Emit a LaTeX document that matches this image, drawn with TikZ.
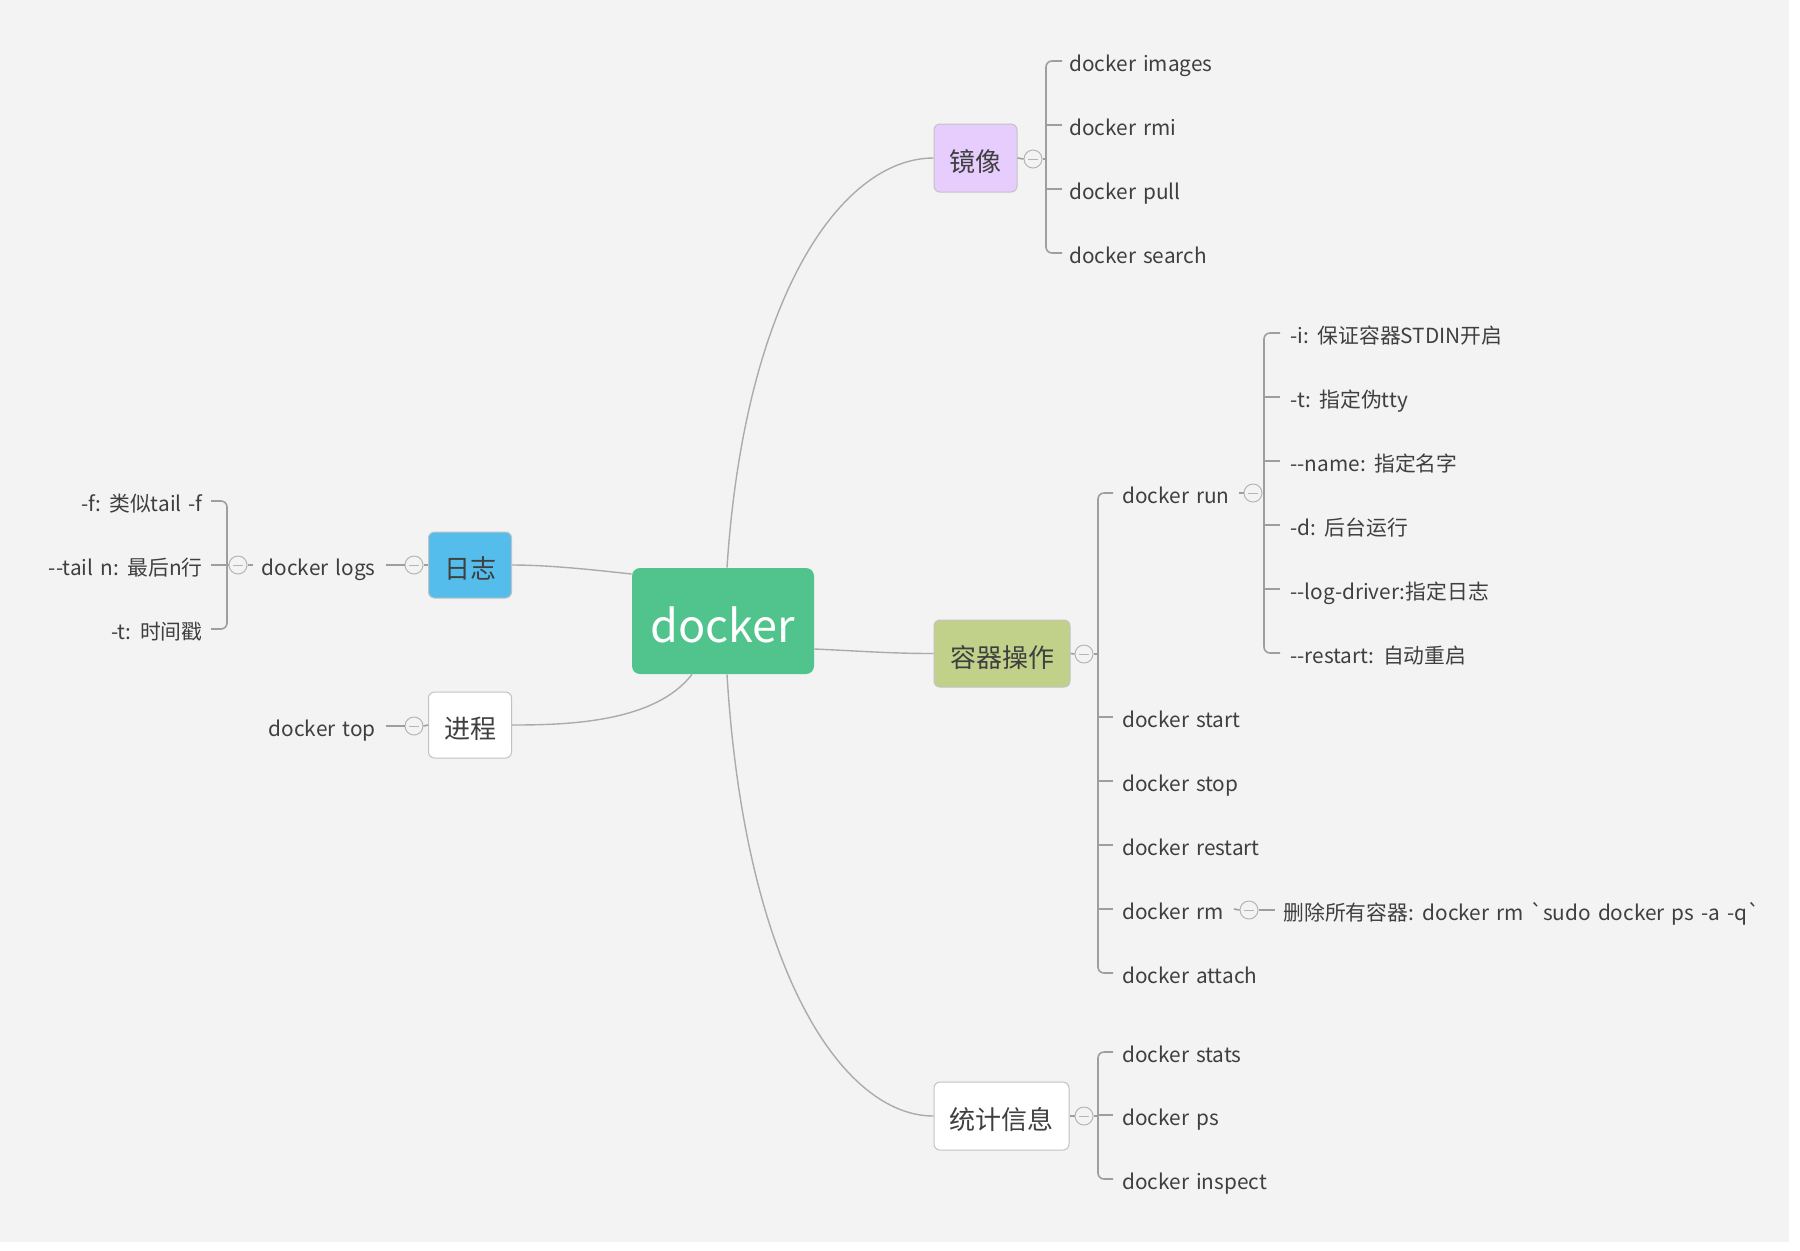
\documentclass[tikz,border=0pt]{standalone}
\usepackage{fontspec}
\setmainfont{Noto Sans CJK SC}[Ligatures=TeXOff, WordSpace=1.5]
\definecolor{bg}{HTML}{F3F3F3}
\definecolor{linec}{HTML}{ABABAB}
\definecolor{brc}{HTML}{9E9E9E}
\definecolor{foldc}{HTML}{B5B5B5}
\definecolor{boxc}{HTML}{C2C2C2}
\definecolor{txt}{HTML}{3F3F3F}
\definecolor{dgreen}{HTML}{50C48C}
\definecolor{purp}{HTML}{E6CDFD}
\definecolor{olive}{HTML}{C2D18A}
\definecolor{blue}{HTML}{55BDEB}
\begin{document}
\begin{tikzpicture}[x=0.5pt,y=-0.5pt,
  conn/.style={draw=linec, line width=0.7pt},
  br/.style={draw=brc, line width=0.8pt},
  topic/.style={draw=boxc, line width=0.5pt, rounded corners=3pt, inner sep=0pt, text=txt, text height=13.5pt, text depth=0pt, font=\fontsize{13}{15}\selectfont},
  leafR/.style={anchor=base west, inner sep=0pt, text=txt, font=\fontsize{10.4}{13}\selectfont},
  leafL/.style={anchor=base east, inner sep=0pt, text=txt, font=\fontsize{10.4}{13}\selectfont},
  fold/.style={circle, draw=foldc, fill=bg, line width=0.5pt, minimum size=9pt, inner sep=0pt,
    path picture={\draw[foldc, line width=0.5pt] ([xshift=-2.5pt]path picture bounding box.center) -- ([xshift=2.5pt]path picture bounding box.center);}}
]
\fill[white] (0,0) rectangle (1800,1250);
\fill[bg] (0,0) rectangle (1789,1242);
\useasboundingbox (0,0) rectangle (1800,1250);

% main topics
\node[fill=dgreen, rounded corners=4pt, minimum width=91pt, minimum height=53pt, inner sep=0pt, text=white, text height=21pt, text depth=0pt, font=\fontsize{22.5}{26}\selectfont] (dk) at (723,621) {docker};
\node[topic, fill=purp, minimum width=41.5pt, minimum height=34pt] (jx) at (975.5,158) {镜像};
\node[topic, fill=olive, minimum width=68pt, minimum height=33.5pt] (rq) at (1002,653.5) {容器操作};
\node[topic, fill=white, minimum width=67.5pt, minimum height=34pt] (tj) at (1001.5,1116) {统计信息};
\node[topic, fill=blue, minimum width=41.5pt, minimum height=33pt] (rz) at (470,565) {日志};
\node[topic, fill=white, minimum width=41.5pt, minimum height=33pt] (jc) at (470,725) {进程};

% curves from center
\draw[conn] ([xshift=2pt]dk.north) .. controls (745,293) and (843,158) .. (jx.west);
\draw[conn] ([xshift=2pt]dk.south) .. controls (745,971) and (843,1116) .. (tj.west);
\draw[conn] ([yshift=-14pt]dk.east) .. controls (860,651) and (890,653.5) .. (rq.west);
\draw[conn] ([yshift=23.5pt]dk.west) .. controls (595,570) and (550,565) .. (rz.east);
\draw[conn] ([xshift=-15.5pt]dk.south) .. controls (655,722) and (570,725) .. (jc.east);

% ---- 镜像 group
\node[fold] (f1) at (1033,159) {};
\draw[br] (jx.east) -- (f1.west);
\foreach \n/\y/\lab in {i1/61/docker images, i2/125/docker rmi, i3/189/docker pull, i4/253/docker search}
  {\node[leafR] (\n) at (1069,\y+10) {\lab};}
\draw[br, rounded corners=3pt] ([xshift=-3.5pt,yshift=5pt]i1.base west) -- (1046,61) -- (1046,253) -- ([xshift=-3.5pt,yshift=5pt]i4.base west);
\foreach \n/\y in {i2/125, i3/189} {\draw[br] (1046,\y) -- ([xshift=-3.5pt,yshift=5pt]\n.base west);}
\draw[br] (f1.east) -- (1046,159);

% ---- 容器操作 group
\node[fold] (f2) at (1084,654) {};
\draw[br] (rq.east) -- (f2.west);
\foreach \n/\y/\lab in {r/493/docker run, s1/717/docker start, s2/781/docker stop, s3/845/docker restart, s4/909/docker rm, s5/973/docker attach}
  {\node[leafR] (\n) at (1122,\y+10) {\lab};}
\draw[br, rounded corners=3pt] ([xshift=-4.5pt,yshift=5pt]r.base west) -- (1098,493) -- (1098,973) -- ([xshift=-4.5pt,yshift=5pt]s5.base west);
\foreach \n/\y in {s1/717, s2/781, s3/845, s4/909} {\draw[br] (1098,\y) -- ([xshift=-4.5pt,yshift=5pt]\n.base west);}
\draw[br] (f2.east) -- (1098,654);

% docker run options
\node[fold] (f3) at (1253,493) {};
\draw[br] ([xshift=4.5pt,yshift=5pt]r.base east) -- (f3.west);
\foreach \n/\y/\lab in {o1/333/-i: 保证容器STDIN开启, o2/397/-t: 指定伪tty, o3/461/--name: 指定名字, o4/525/-d: 后台运行, o5/589/--log-driver:指定日志, o6/653/--restart: 自动重启}
  {\node[leafR] (\n) at (1290,\y+10) {\lab};}
\draw[br, rounded corners=3pt] ([xshift=-5pt,yshift=5pt]o1.base west) -- (1264,333) -- (1264,653) -- ([xshift=-5pt,yshift=5pt]o6.base west);
\foreach \n/\y in {o2/397, o3/461, o4/525, o5/589} {\draw[br] (1264,\y) -- ([xshift=-5pt,yshift=5pt]\n.base west);}
\draw[br] (f3.east) -- (1264,493);

% docker rm child
\node[fold] (f4) at (1249,910) {};
\draw[br] ([xshift=5pt,yshift=5pt]s4.base east) -- (f4.west);
\node[leafR] (rmall) at (1283,920) {删除所有容器: docker rm `sudo docker ps -a -q`};
\draw[br] (f4.east) -- ([xshift=-4pt,yshift=5pt]rmall.base west);

% ---- 统计信息 group
\node[fold] (f5) at (1084,1116) {};
\draw[br] (tj.east) -- (f5.west);
\foreach \n/\y/\lab in {t1/1052/docker stats, t2/1115/docker ps, t3/1179/docker inspect}
  {\node[leafR] (\n) at (1122,\y+10) {\lab};}
\draw[br, rounded corners=3pt] ([xshift=-4.5pt,yshift=5pt]t1.base west) -- (1098,1052) -- (1098,1179) -- ([xshift=-4.5pt,yshift=5pt]t3.base west);
\draw[br] (1098,1115) -- ([xshift=-4.5pt,yshift=5pt]t2.base west);
\draw[br] (f5.east) -- (1098,1116);

% ---- 日志 group
\node[fold] (f6) at (414,565) {};
\draw[br] (rz.west) -- (f6.east);
\node[leafL] (lg) at (376,575) {docker logs};
\draw[br] (f6.west) -- ([xshift=5pt,yshift=5pt]lg.base east);
\node[fold] (f7) at (238,565) {};
\draw[br] ([xshift=-4pt,yshift=5pt]lg.base west) -- (f7.east);
\foreach \n/\y/\lab in {g1/501/-f: 类似tail -f, g2/565/--tail n: 最后n行, g3/629/-t: 时间戳}
  {\node[leafL] (\n) at (203,\y+10) {\lab};}
\draw[br, rounded corners=3pt] ([xshift=4pt,yshift=5pt]g1.base east) -- (227,501) -- (227,629) -- ([xshift=4pt,yshift=5pt]g3.base east);
\draw[br] (227,565) -- ([xshift=4pt,yshift=5pt]g2.base east);
\draw[br] (f7.west) -- (227,565);

% ---- 进程 group
\node[fold] (f8) at (414,726) {};
\draw[br] (jc.west) -- (f8.east);
\node[leafL] (tp) at (376,736) {docker top};
\draw[br] (f8.west) -- ([xshift=5pt,yshift=5pt]tp.base east);
\end{tikzpicture}
\end{document}
